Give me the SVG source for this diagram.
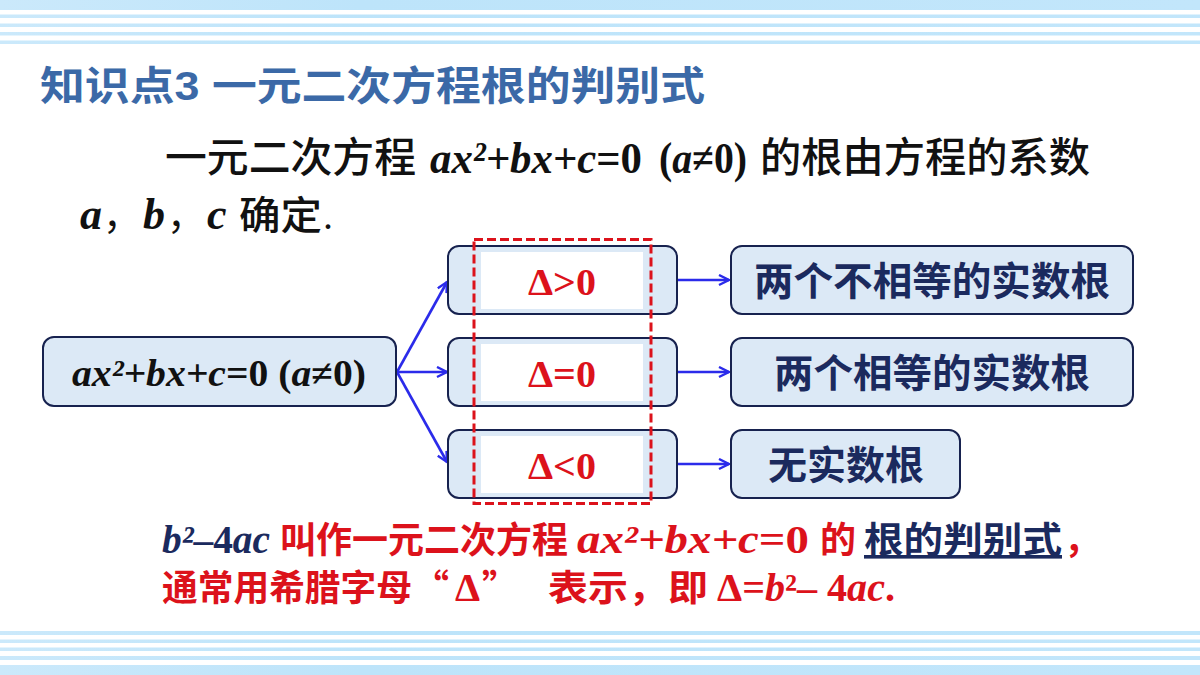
<svg xmlns="http://www.w3.org/2000/svg" width="1200" height="675" viewBox="0 0 1200 675">
<defs>
<linearGradient id="band" x1="0" y1="0" x2="1" y2="0">
<stop offset="0" stop-color="#cbe9fb"/>
<stop offset="0.3" stop-color="#bde4fa"/>
<stop offset="1" stop-color="#c2e6fb"/>
</linearGradient>
<marker id="ah" markerUnits="userSpaceOnUse" markerWidth="14" markerHeight="14" refX="11" refY="6" orient="auto">
<path d="M1,1 L11,6 L1,11" fill="none" stroke="#2b2bea" stroke-width="2.4"/>
</marker>
</defs>
<style>
.stripe{fill:url(#band);}
.box{fill:#dce9f6;stroke:#17224f;stroke-width:2;}
.inner{fill:#ffffff;}
.conn{stroke:#2b2bea;stroke-width:2.6;fill:none;marker-end:url(#ah);}
.math{font-family:"Liberation Serif",serif;font-weight:bold;font-style:italic;}
.mr{font-family:"Liberation Serif",serif;font-weight:bold;font-style:normal;}
.cjk{font-family:"Noto Sans CJK SC",sans-serif;}
.title{font-family:"Liberation Sans","Noto Sans CJK SC",sans-serif;font-weight:bold;font-size:40px;fill:#3b69a7;}
.node{font-family:"Noto Sans CJK SC",sans-serif;font-weight:bold;font-size:39px;fill:#1b2a5e;}
.red{fill:#dc121b;}
.navy{fill:#1b2a5e;}
.ink{fill:#111111;}
</style>
<rect width="1200" height="675" fill="#ffffff"/>
<!-- top band -->
<rect class="stripe" x="0" y="0" width="1200" height="10"/>
<rect class="stripe" x="0" y="14.5" width="1200" height="3.5"/>
<rect class="stripe" x="0" y="23.5" width="1200" height="3.5"/>
<rect class="stripe" x="0" y="32" width="1200" height="3.5"/>
<rect class="stripe" x="0" y="40.5" width="1200" height="3.5"/>
<!-- bottom band -->
<rect class="stripe" x="0" y="631" width="1200" height="4"/>
<rect class="stripe" x="0" y="639.5" width="1200" height="3.5"/>
<rect class="stripe" x="0" y="647.5" width="1200" height="3.5"/>
<rect class="stripe" x="0" y="656" width="1200" height="4"/>
<rect class="stripe" x="0" y="665" width="1200" height="10"/>

<text class="title" x="40" y="100" textLength="665" lengthAdjust="spacingAndGlyphs">知识点3 一元二次方程根的判别式</text>

<g id="intro">
<text x="165" y="172" class="cjk ink" font-size="41" font-weight="500" textLength="251" lengthAdjust="spacingAndGlyphs">一元二次方程</text>
<text x="430" y="173" class="ink" font-size="44" textLength="212" lengthAdjust="spacingAndGlyphs"><tspan class="math">ax²+bx+c</tspan><tspan class="mr">=0</tspan></text>
<text x="659" y="173" class="ink" font-size="44" textLength="88" lengthAdjust="spacingAndGlyphs"><tspan class="mr">(</tspan><tspan class="math">a</tspan><tspan class="mr">≠0)</tspan></text>
<text x="760" y="172" class="cjk ink" font-size="41" font-weight="500" textLength="330" lengthAdjust="spacingAndGlyphs">的根由方程的系数</text>
<text x="80" y="229" class="math ink" font-size="44">a</text>
<text x="103" y="229" class="cjk ink" font-size="38">，</text>
<text x="143" y="229" class="math ink" font-size="44">b</text>
<text x="167" y="229" class="cjk ink" font-size="38">，</text>
<text x="207" y="229" class="math ink" font-size="44">c</text>
<text x="239" y="229" class="cjk ink" font-size="39" font-weight="500" textLength="83" lengthAdjust="spacingAndGlyphs">确定</text>
<text x="323" y="229" font-family="Liberation Serif, serif" font-size="40" class="ink">.</text>
</g>

<g id="connectors">
<line class="conn" x1="397" y1="372" x2="447" y2="282"/>
<line class="conn" x1="397" y1="372" x2="447" y2="372"/>
<line class="conn" x1="397" y1="372" x2="447" y2="462"/>
<line class="conn" x1="678" y1="280" x2="729" y2="280"/>
<line class="conn" x1="678" y1="372" x2="729" y2="372"/>
<line class="conn" x1="678" y1="464" x2="729" y2="464"/>
</g>

<g id="eq">
<rect class="box" x="43" y="337" width="353" height="69" rx="11"/>
<text x="72" y="386" font-size="38" class="ink" textLength="294" lengthAdjust="spacingAndGlyphs"><tspan class="math">ax²+bx+c</tspan><tspan class="mr">=0 (</tspan><tspan class="math">a</tspan><tspan class="mr">≠0)</tspan></text>
</g>

<g id="gt">
<rect class="box" x="448" y="246" width="229" height="68" rx="11"/>
<rect class="inner" x="481" y="252" width="162" height="57"/>
<text x="528" y="295" font-size="38" class="mr red" textLength="68" lengthAdjust="spacingAndGlyphs">Δ&gt;0</text>
</g>
<g id="eq0">
<rect class="box" x="448" y="338" width="229" height="68" rx="11"/>
<rect class="inner" x="481" y="344" width="162" height="57"/>
<text x="528" y="387" font-size="38" class="mr red" textLength="68" lengthAdjust="spacingAndGlyphs">Δ=0</text>
</g>
<g id="lt">
<rect class="box" x="448" y="430" width="229" height="68" rx="11"/>
<rect class="inner" x="481" y="436" width="162" height="57"/>
<text x="528" y="479" font-size="38" class="mr red" textLength="68" lengthAdjust="spacingAndGlyphs">Δ&lt;0</text>
</g>
<g id="highlight">
<rect x="474" y="239.5" width="177" height="264" fill="none" stroke="#dc121b" stroke-width="3" stroke-dasharray="9 4"/>
</g>

<g id="r1">
<rect class="box" x="731" y="246" width="402" height="68" rx="11"/>
<text class="node" x="754" y="295" textLength="356" lengthAdjust="spacingAndGlyphs">两个不相等的实数根</text>
</g>
<g id="r2">
<rect class="box" x="731" y="338" width="402" height="68" rx="11"/>
<text class="node" x="774" y="387" textLength="316" lengthAdjust="spacingAndGlyphs">两个相等的实数根</text>
</g>
<g id="r3">
<rect class="box" x="731" y="430" width="229" height="68" rx="11"/>
<text class="node" x="768" y="479" textLength="156" lengthAdjust="spacingAndGlyphs">无实数根</text>
</g>

<g id="note">
<text x="162" y="553" font-size="40" class="math navy" textLength="108" lengthAdjust="spacingAndGlyphs">b²<tspan class="mr">–4</tspan>ac</text>
<text x="280" y="553" font-size="36" class="cjk red" font-weight="bold" textLength="288" lengthAdjust="spacingAndGlyphs">叫作一元二次方程</text>
<text x="577" y="553" font-size="40" class="red" textLength="232" lengthAdjust="spacingAndGlyphs"><tspan class="math">ax²+bx+c</tspan><tspan class="mr">=0</tspan></text>
<text x="820" y="553" font-size="36" class="cjk red" font-weight="bold">的</text>
<text x="864" y="553" font-size="36" class="cjk navy" font-weight="bold" text-decoration="underline" textLength="198" lengthAdjust="spacingAndGlyphs">根的判别式</text>
<text x="1064" y="553" font-size="36" class="cjk red" font-weight="bold">，</text>
<text x="162" y="601" font-size="36" class="cjk red" font-weight="bold" textLength="250" lengthAdjust="spacingAndGlyphs">通常用希腊字母</text>
<text x="413" y="601" font-size="36" class="cjk red" font-weight="bold">“<tspan class="mr" font-size="40" dx="6">Δ</tspan><tspan dx="2">”</tspan></text>
<text x="548" y="601" font-size="36" class="cjk red" font-weight="bold" textLength="160" lengthAdjust="spacingAndGlyphs">表示，即</text>
<text x="717" y="601" font-size="40" class="red" textLength="178" lengthAdjust="spacingAndGlyphs"><tspan class="mr">Δ=</tspan><tspan class="math">b</tspan><tspan class="mr">²– 4</tspan><tspan class="math">ac</tspan><tspan class="mr">.</tspan></text>
</g>
</svg>
